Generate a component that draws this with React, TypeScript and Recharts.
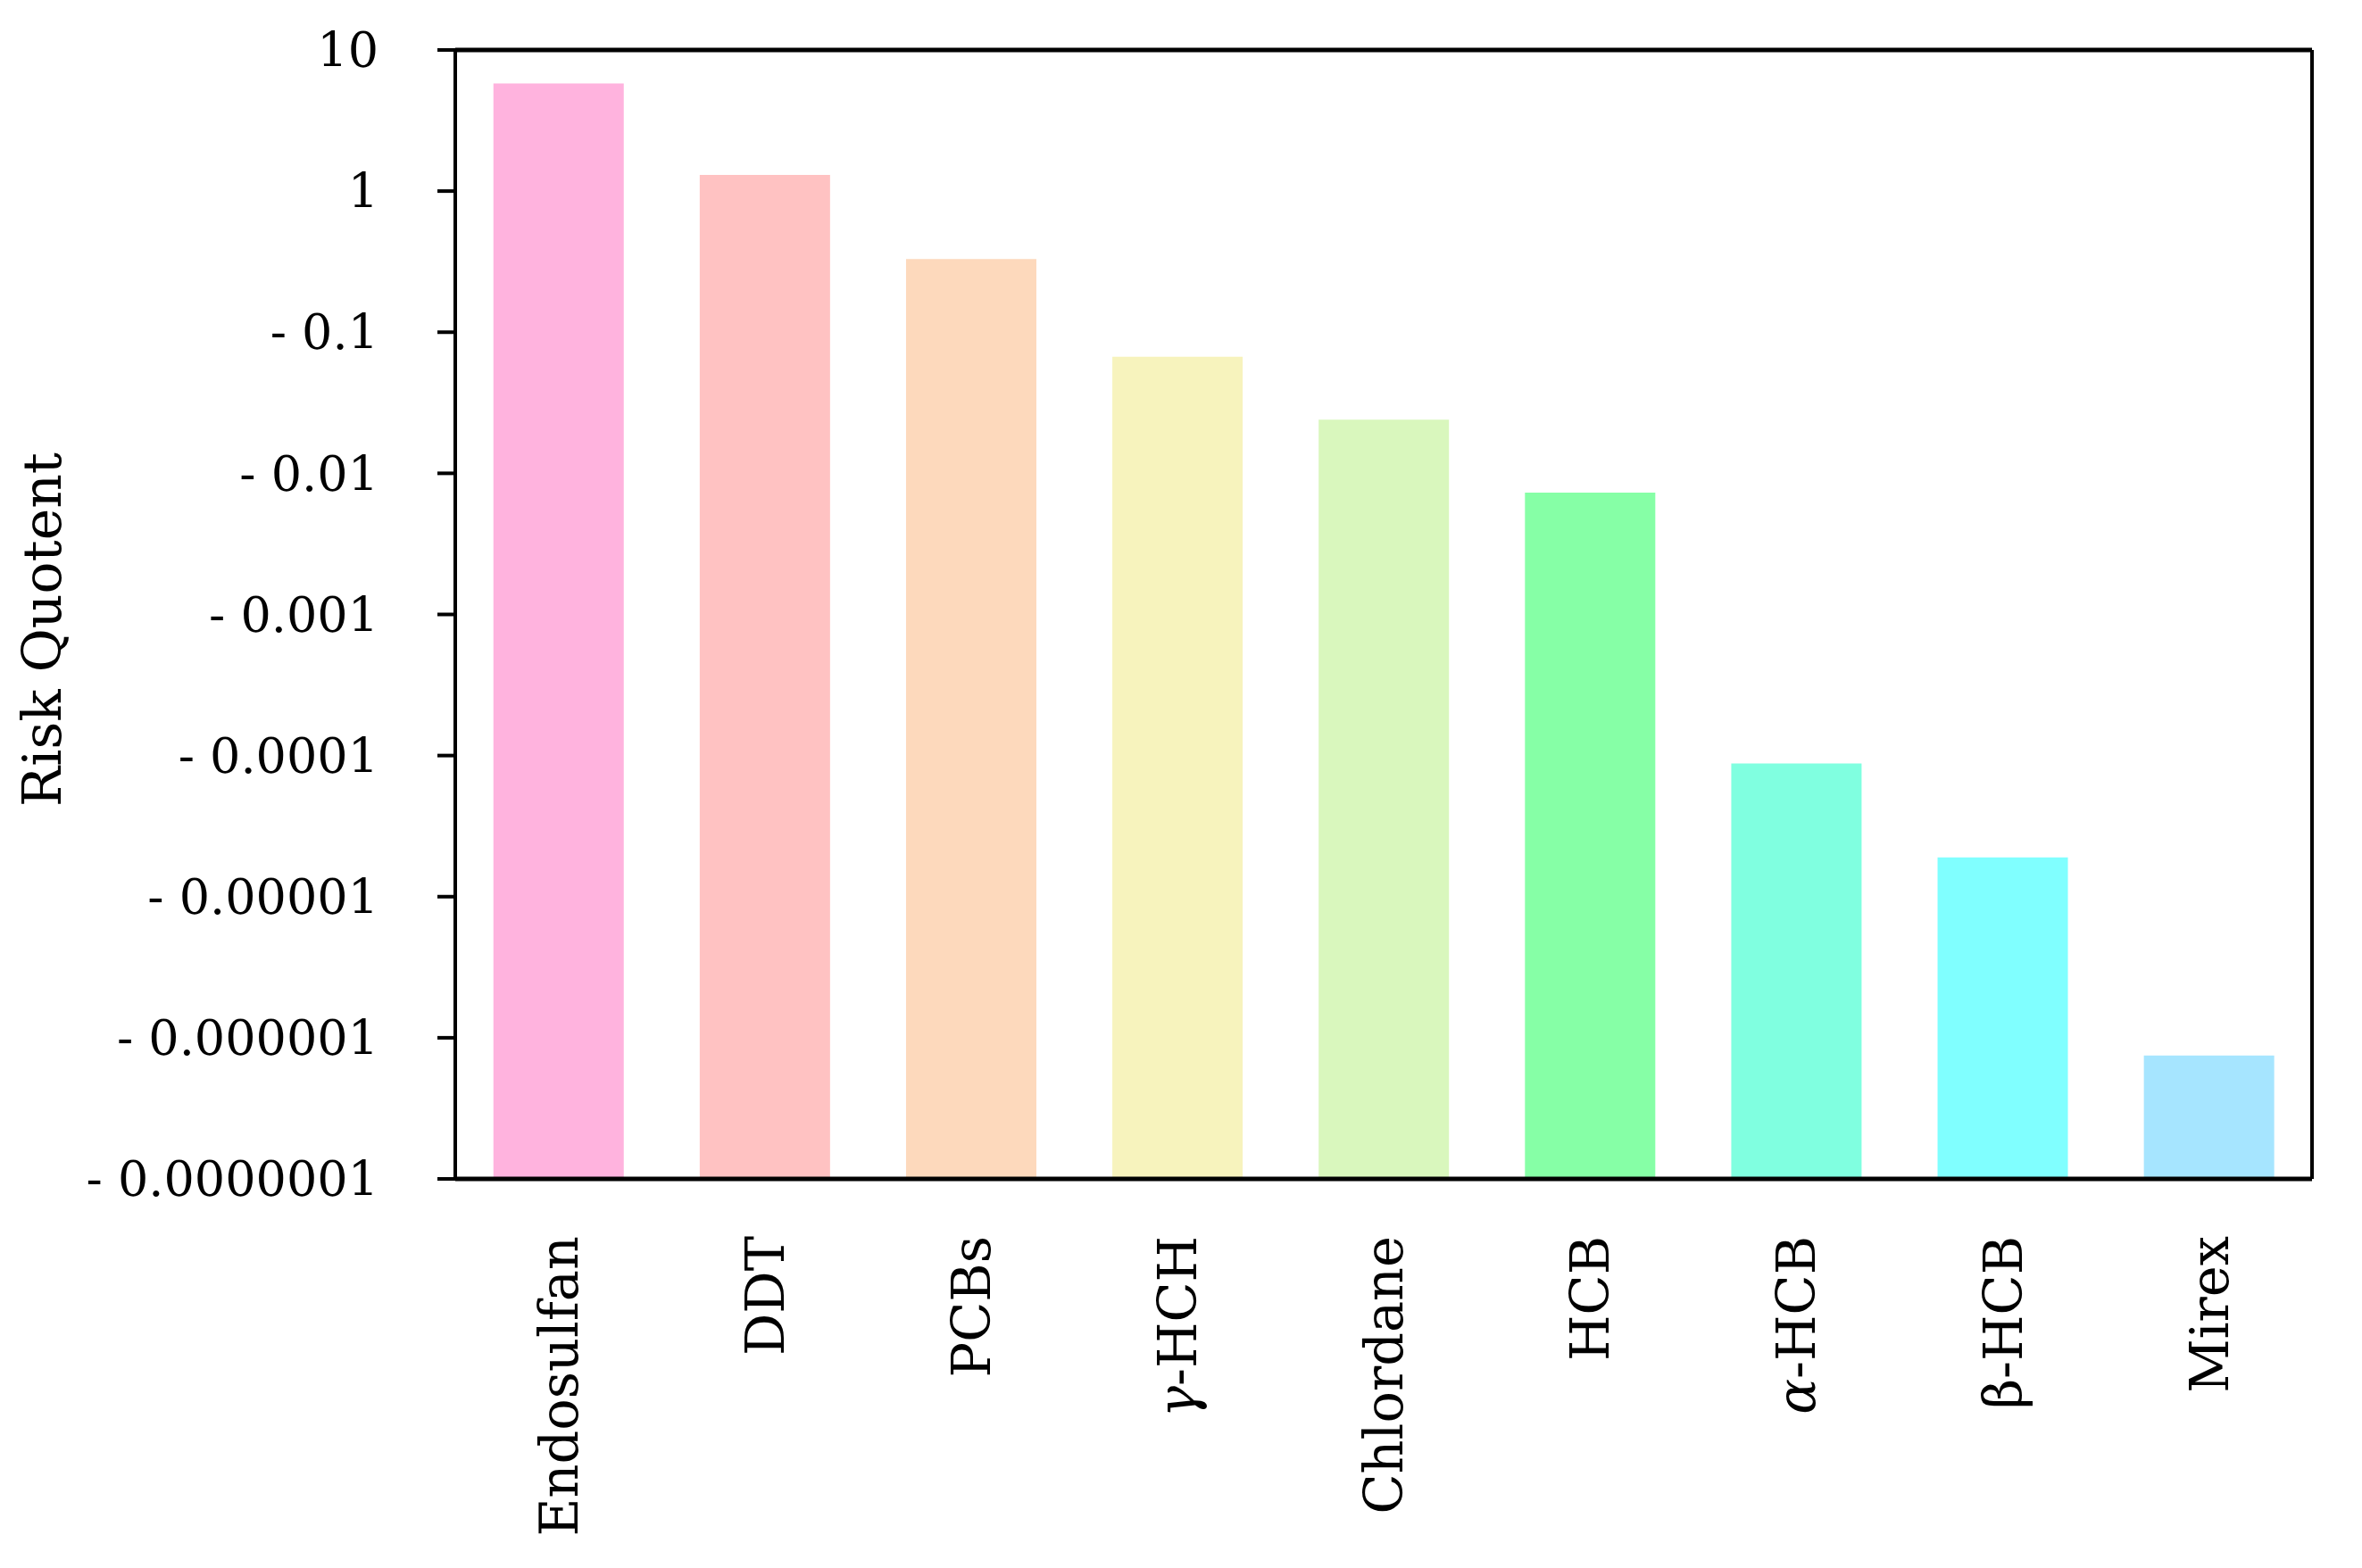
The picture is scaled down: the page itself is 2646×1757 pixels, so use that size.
import { Bar, BarChart, Cell, XAxis, YAxis } from "recharts";

const categories = ["Endosulfan", "DDT", "PCBs", "γ-HCH", "Chlordane", "HCB", "α-HCB", "β-HCB", "Mirex"];
const riskQuotient = [5.8, 1.3, 0.33, 0.067, 0.024, 0.0073, 0.000088, 0.000019, 0.00000075];
const barColors = ["#FFB3DE", "#FFC2C2", "#FDD9BC", "#F7F3BD", "#D9F7BD", "#86FFA6", "#80FFE0", "#80FFFF", "#A6E5FF"];
const yTicks = [10, 1, 0.1, 0.01, 0.001, 0.0001, 0.00001, 0.000001, 0.0000001];
const yTickLabels = ["10", "1", "- 0.1", "- 0.01", "- 0.001", "- 0.0001", "- 0.00001", "- 0.000001", "- 0.0000001"];

const FONT = "'DejaVu Serif', serif";

const chartData = categories.map((name, i) => ({ name, rq: riskQuotient[i] }));

const CategoryTick = ({ x, y, payload }: any) => {
  const label: string = payload.value;
  const first = label.charAt(0);
  const italic = first === "γ" || first === "α";
  return (
    <text
      x={x}
      y={y}
      transform={`rotate(-90, ${x}, ${y})`}
      textAnchor="end"
      dy="0.36em"
      fontFamily={FONT}
      fontSize={59}
      fill="#000"
    >
      {italic ? (
        <>
          <tspan fontStyle="italic">{first}</tspan>
          {label.slice(1)}
        </>
      ) : (
        label
      )}
    </text>
  );
};

const YLabel = ({ viewBox }: any) => {
  const cx = 47;
  const cy = viewBox.y + viewBox.height / 2 + 17;
  return (
    <text
      x={cx}
      y={cy}
      transform={`rotate(-90, ${cx}, ${cy})`}
      textAnchor="middle"
      dominantBaseline="central"
      fontFamily={FONT}
      fontSize={60}
      fill="#000"
    >
      Risk Quotent
    </text>
  );
};

export default function App() {
  return (
    <div style={{ position: "absolute", left: 0, top: 0, background: "#fff" }}>
      <BarChart
        width={2646}
        height={1757}
        data={chartData}
        margin={{ top: 55, right: 54, bottom: 0, left: 0 }}
        barCategoryGap="18.5%"
      >
        <XAxis
          dataKey="name"
          height={436}
          interval={0}
          tickLine={false}
          axisLine={{ stroke: "#000", strokeWidth: 5 }}
          tick={<CategoryTick />}
          tickMargin={58}
        />
        <XAxis
          xAxisId="top"
          dataKey="name"
          orientation="top"
          height={1}
          tick={false}
          tickLine={false}
          axisLine={{ stroke: "#000", strokeWidth: 5 }}
        />
        <YAxis
          scale="log"
          domain={[0.0000001, 10]}
          ticks={yTicks}
          allowDataOverflow
          width={510}
          tickSize={20}
          tickMargin={66}
          tickLine={{ stroke: "#000", strokeWidth: 4 }}
          axisLine={{ stroke: "#000", strokeWidth: 4 }}
          tickFormatter={(v: number) => yTickLabels[yTicks.findIndex((t) => Math.abs(t - v) < t * 1e-6)] ?? ""}
          tick={{ fontFamily: FONT, fontSize: 54, fill: "#000" }}
          label={<YLabel />}
        />
        <YAxis
          yAxisId="right"
          orientation="right"
          width={2}
          tick={false}
          tickLine={false}
          axisLine={{ stroke: "#000", strokeWidth: 4 }}
        />
        <Bar dataKey="rq" isAnimationActive={false}>
          {chartData.map((d, i) => (
            <Cell key={d.name} fill={barColors[i]} />
          ))}
        </Bar>
      </BarChart>
    </div>
  );
}
